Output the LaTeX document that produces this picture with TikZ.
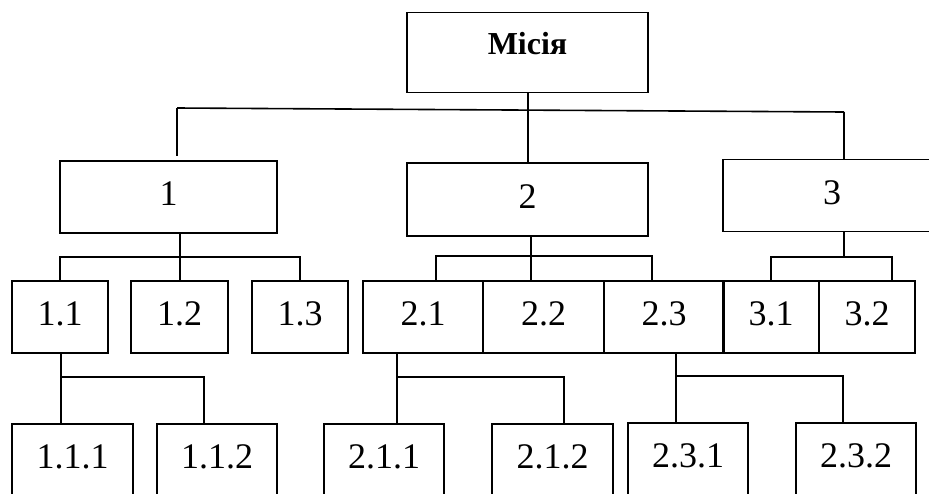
\documentclass[tikz,border=0pt]{standalone}
\usepackage{fontspec}
\setmainfont{Liberation Serif}
\begin{document}
\begin{tikzpicture}[x=1pt,y=-1pt,
  box/.style={draw, rectangle, line width=1.6pt, inner sep=0pt,
              minimum height=72pt, text depth=6pt,
              font=\fontsize{36}{40}\selectfont},
  link/.style={line width=1.6pt}]
\useasboundingbox (0,0) rectangle (929,493);
\clip (0,0) rectangle (929,493);

% root
\node[box, minimum width=241pt, minimum height=80pt, text depth=19pt,
      font=\fontsize{32}{36}\selectfont\bfseries] (mis) at (527.5,52.5) {Місія};

% level 1
\node[box, minimum width=217pt] (b1) at (168.5,197) {1};
\node[box, minimum width=241pt, minimum height=73pt] (b2) at (527.5,199.5) {2};
\node[box, minimum width=218pt] (b3) at (832,195.5) {3};

% level 2
\node[box, minimum width=96pt]  (b11) at (60,317)    {1.1};
\node[box, minimum width=97pt]  (b12) at (179.5,317) {1.2};
\node[box, minimum width=96pt]  (b13) at (300,317)   {1.3};
\node[box, minimum width=120pt] (b21) at (423,317)   {2.1};
\node[box, minimum width=121pt] (b22) at (543.5,317) {2.2};
\node[box, minimum width=120pt] (b23) at (664,317)   {2.3};
\node[box, minimum width=96pt]  (b31) at (771,317)   {3.1};
\node[box, minimum width=96pt]  (b32) at (867,317)   {3.2};

% level 3
\node[box, minimum width=121pt] (b111) at (72.5,460) {1.1.1};
\node[box, minimum width=120pt] (b112) at (217,460)  {1.1.2};
\node[box, minimum width=120pt] (b211) at (384,460)  {2.1.1};
\node[box, minimum width=121pt] (b212) at (552.5,460){2.1.2};
\node[box, minimum width=120pt] (b231) at (688,459)  {2.3.1};
\node[box, minimum width=120pt] (b232) at (856,459)  {2.3.2};

% junction points
\coordinate (tl) at (177,108);
\coordinate (tr) at (844,112);
\coordinate (tlend) at (177,156);
\coordinate (j0) at (528,110);
\coordinate (j1) at (180,257);
\coordinate (j2) at (531,256);
\coordinate (j3) at (844,257);
\coordinate (j11) at (61,377);
\coordinate (j21) at (397,377);
\coordinate (j23) at (676,376);

% root to level 1
\draw[link] (j0 |- mis.south) -- (j0 |- b2.north);
\draw[link] (tl) -- (tr);
\draw[link] (tl) -- (tlend);
\draw[link] (tr) -- (tr |- b3.north);

% level 1 to level 2
\draw[link] (j1 |- b1.south) -- (j1 |- b12.north);
\draw[link] (b11.north) -- (b11.north |- j1) -- (300,257) -- (b13.north);

\draw[link] (j2 |- b2.south) -- (j2 |- b22.north);
\draw[link] (436,281) -- (436,256) -- (652,256) -- (652,281);

\draw[link] (j3 |- b3.south) -- (j3);
\draw[link] (b31.north) -- (771,257) -- (892,257) -- (892,281);

% level 2 to level 3
\draw[link] (j11 |- b11.south) -- (j11 |- b111.north);
\draw[link] (j11) -- (204,377) -- (204,424);

\draw[link] (j21 |- b21.south) -- (j21 |- b211.north);
\draw[link] (j21) -- (564,377) -- (564,424);

\draw[link] (j23 |- b23.south) -- (j23 |- b231.north);
\draw[link] (j23) -- (843,376) -- (843,423);
\end{tikzpicture}
\end{document}
